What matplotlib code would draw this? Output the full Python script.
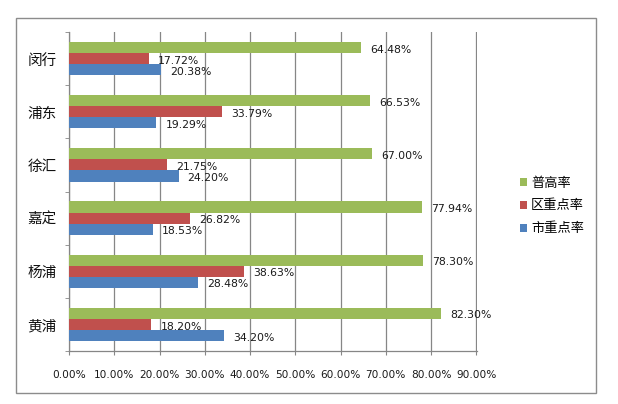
import matplotlib.pyplot as plt
from matplotlib.patches import Rectangle
import numpy as np

plt.rcParams['font.family'] = ['DejaVu Sans', 'Noto Sans CJK SC']

districts = ["闵行", "浦东", "徐汇", "嘉定", "杨浦", "黄浦"]
series_names = ["普高率", "区重点率", "市重点率"]
puGao = [64.48, 66.53, 67.00, 77.94, 78.30, 82.30]
quZhongDian = [17.72, 33.79, 21.75, 26.82, 38.63, 18.20]
shiZhongDian = [20.38, 19.29, 24.20, 18.53, 28.48, 34.20]
xticks = [0, 10, 20, 30, 40, 50, 60, 70, 80, 90]

colors = ["#9BBB59", "#C0504D", "#4F81BD"]
grid_c = "#868686"

fig = plt.figure(figsize=(6.18, 4.04), dpi=100)
# outer chart frame
fig.patches.append(Rectangle((16 / 618, 1 - 393 / 404), 580 / 618, 375 / 404,
                             transform=fig.transFigure, fill=False,
                             edgecolor="#8c8c8c", linewidth=1))
ax = fig.add_axes([69 / 618, 53 / 404, 408 / 618, 319 / 404])

y = np.arange(len(districts))
h = 0.21
bars = []
for k, (vals, off) in enumerate(zip([puGao, quZhongDian, shiZhongDian], [-h, 0, h])):
    b = ax.barh(y + off, vals, height=h, color=colors[k], label=series_names[k], zorder=3)
    bars.append(b)
    for yi, v in zip(y + off, vals):
        ax.annotate("%.2f%%" % v, (v, yi), xytext=(6.5, -1.5), textcoords="offset points",
                    ha="left", va="center", fontsize=7.8, color="#1a1a1a", zorder=4)

ax.set_xlim(0, 90.15)
ax.set_ylim(len(districts) - 0.5, -0.5)
ax.set_xticks(xticks)
ax.set_xticklabels(["%.2f%%" % t for t in xticks], fontsize=7.6, color="#1a1a1a")
ax.set_yticks(y)
ax.set_yticklabels(districts, fontsize=10.5, color="#111111")
ax.set_yticks(np.arange(len(districts) + 1) - 0.5, minor=True)
ax.tick_params(axis="y", which="major", length=0, pad=9)
ax.tick_params(axis="y", which="minor", length=3, color=grid_c, direction="out")
ax.tick_params(axis="x", length=3, color=grid_c, pad=11)
ax.grid(axis="x", color=grid_c, linewidth=0.9, zorder=0)
for s in ["top", "right"]:
    ax.spines[s].set_visible(False)
for s in ["left", "bottom"]:
    ax.spines[s].set_color(grid_c)
    ax.spines[s].set_linewidth(0.9)

fig.legend(handles=bars, labels=series_names, loc="center left",
           bbox_to_anchor=(508 / 618, 1 - 206 / 404), frameon=False,
           fontsize=9.5, handlelength=0.55, handleheight=0.55, handletextpad=0.3,
           labelspacing=0.75)

fig.savefig("out.png", dpi=100, facecolor="white")
